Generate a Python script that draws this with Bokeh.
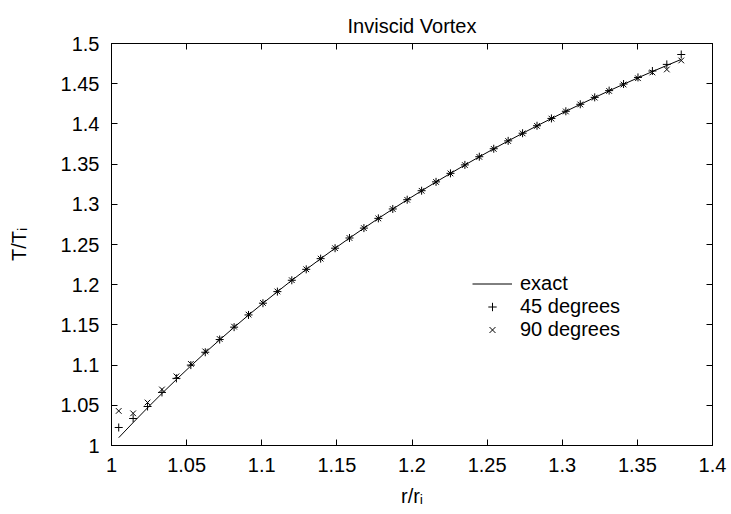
from bokeh.plotting import figure
from bokeh.models import (Range1d, FixedTicker, LinearAxis, Legend, LegendItem,
                          CustomJSTickFormatter)
from bokeh.embed import file_html
from bokeh.resources import INLINE

title_text = "Inviscid Vortex"
x_label = "r/rᵢ"
y_label = "T/Tᵢ"
x_ticks = [1.0, 1.05, 1.1, 1.15, 1.2, 1.25, 1.3, 1.35, 1.4]
y_ticks = [1.0, 1.05, 1.1, 1.15, 1.2, 1.25, 1.3, 1.35, 1.4, 1.45, 1.5]

r = [1.0048, 1.0144, 1.0240, 1.0336, 1.0432, 1.0528, 1.0624, 1.0720, 1.0816, 1.0912,
     1.1008, 1.1104, 1.1200, 1.1296, 1.1392, 1.1488, 1.1584, 1.1680, 1.1776, 1.1872,
     1.1968, 1.2064, 1.2160, 1.2256, 1.2352, 1.2448, 1.2544, 1.2640, 1.2736, 1.2832,
     1.2928, 1.3024, 1.3120, 1.3216, 1.3312, 1.3408, 1.3504, 1.3600, 1.3696, 1.3792]

exact = [1.0097, 1.0285, 1.0469, 1.0648, 1.0821, 1.0990, 1.1155, 1.1314, 1.1470, 1.1622,
         1.1769, 1.1913, 1.2054, 1.2190, 1.2323, 1.2453, 1.2580, 1.2703, 1.2824, 1.2941,
         1.3056, 1.3168, 1.3278, 1.3384, 1.3489, 1.3591, 1.3690, 1.3788, 1.3883, 1.3976,
         1.4067, 1.4156, 1.4243, 1.4328, 1.4412, 1.4493, 1.4573, 1.4651, 1.4727, 1.4802]

deg45 = [1.0224, 1.0336, 1.0485, 1.0660, 1.0835, 1.1000, 1.1160, 1.1318, 1.1472, 1.1624,
         1.1770, 1.1914, 1.2055, 1.2191, 1.2324, 1.2454, 1.2581, 1.2704, 1.2825, 1.2942,
         1.3057, 1.3169, 1.3279, 1.3385, 1.3490, 1.3592, 1.3691, 1.3789, 1.3884, 1.3977,
         1.4068, 1.4157, 1.4244, 1.4330, 1.4414, 1.4496, 1.4578, 1.4658, 1.4740, 1.4863]

deg90 = [1.0430, 1.0400, 1.0535, 1.0697, 1.0860, 1.1015, 1.1170, 1.1325, 1.1478, 1.1628,
         1.1773, 1.1916, 1.2056, 1.2192, 1.2324, 1.2454, 1.2581, 1.2704, 1.2824, 1.2941,
         1.3056, 1.3168, 1.3278, 1.3384, 1.3488, 1.3590, 1.3689, 1.3787, 1.3882, 1.3975,
         1.4066, 1.4155, 1.4242, 1.4327, 1.4410, 1.4490, 1.4568, 1.4640, 1.4677, 1.4789]

FONT = "Liberation Sans"
FS = "20px"

p = figure(width=731, height=514, output_backend="svg", toolbar_location=None,
           x_range=Range1d(1.0, 1.4), y_range=Range1d(1.0, 1.5),
           x_axis_label=x_label, y_axis_label=y_label)
p.min_border_left = 111
p.min_border_right = 19
p.min_border_top = 43
p.min_border_bottom = 69
p.grid.visible = False
p.outline_line_color = "black"
p.outline_line_width = 1
p.background_fill_color = "white"
p.border_fill_color = "white"

p.title.text = title_text
p.title.align = "center"
p.title.text_font = FONT
p.title.text_font_size = FS
p.title.text_font_style = "normal"
p.title.text_color = "black"
p.title.standoff = 14

fmt = CustomJSTickFormatter(code="return Number(tick.toFixed(2)).toString();")

for ax, ticks in ((p.xaxis[0], x_ticks), (p.yaxis[0], y_ticks)):
    ax.ticker = FixedTicker(ticks=ticks)
    ax.formatter = fmt
    ax.major_tick_in = 6
    ax.major_tick_out = 0
    ax.minor_tick_line_color = None
    ax.axis_line_color = "black"
    ax.major_tick_line_color = "black"
    ax.major_label_text_font = FONT
    ax.major_label_text_font_size = FS
    ax.major_label_text_color = "black"
    ax.axis_label_text_font = FONT
    ax.axis_label_text_font_size = FS
    ax.axis_label_text_font_style = "normal"
    ax.axis_label_text_color = "black"

p.xaxis[0].major_label_standoff = 12
p.xaxis[0].axis_label_standoff = 10
p.yaxis[0].major_label_standoff = 12
p.yaxis[0].axis_label_standoff = 28

blank = CustomJSTickFormatter(code="return '';")
for loc, ticks in (("right", y_ticks), ("above", x_ticks)):
    ax = LinearAxis(ticker=FixedTicker(ticks=ticks), major_tick_in=6, major_tick_out=0,
                    minor_tick_line_color=None, formatter=blank,
                    major_label_standoff=0, axis_line_color="black")
    p.add_layout(ax, loc)

line = p.line(r, exact, line_color="black", line_width=1)
s45 = p.scatter(r, deg45, marker="cross", size=8, line_color="black", line_width=1)
s90 = p.scatter(r, deg90, marker="x", size=8, line_color="black", line_width=1)

legend = Legend(items=[LegendItem(label="exact", renderers=[line]),
                       LegendItem(label="45 degrees", renderers=[s45]),
                       LegendItem(label="90 degrees", renderers=[s90])],
                location=(361, 104), border_line_color=None, background_fill_alpha=0,
                label_text_font=FONT, label_text_font_size=FS, label_text_color="black",
                label_height=21, glyph_height=21, glyph_width=40, label_standoff=8,
                spacing=0, padding=0, margin=0)
p.add_layout(legend)

open("out.html", "w").write(file_html(p, INLINE))
